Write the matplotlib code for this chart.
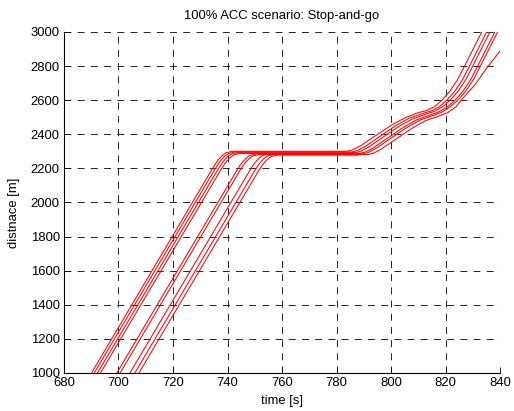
import matplotlib
matplotlib.use("Agg")
import matplotlib.pyplot as plt

plt.rcParams["font.family"] = ["Liberation Sans", "DejaVu Sans"]
plt.rcParams["lines.scale_dashes"] = False

# vehicle trajectories: time [s] and position [m]
veh1_t = [688.1, 690.1, 734.9, 736.4, 737.9, 739.4, 741.6, 783.8, 785.8, 788.8, 793.8, 799.8,
          804.8, 809.8, 813.0, 816.0, 818.7, 821.5, 824.5, 827.2, 830.0, 833.3, 834.5]
veh1_d = [946, 1000, 2210, 2246, 2273, 2291, 2300, 2300, 2308, 2332, 2386, 2450,
          2494, 2526, 2539, 2562, 2600, 2650, 2722, 2806, 2895, 3000, 3040]

veh2_t = [689.1, 691.1, 735.8, 737.3, 738.8, 740.3, 742.5, 785.6, 787.6, 790.6, 795.6, 801.6,
          806.6, 811.6, 814.8, 817.8, 820.5, 823.3, 826.3, 829.0, 831.8, 835.1, 836.3]
veh2_d = [946, 1000, 2206, 2242, 2269, 2287, 2296, 2296, 2304, 2329, 2384, 2449,
          2494, 2522, 2537, 2562, 2600, 2650, 2722, 2806, 2895, 3000, 3040]

veh3_t = [690.3, 692.3, 736.8, 738.3, 739.8, 741.3, 743.5, 786.8, 788.8, 791.8, 796.8, 802.8,
          807.8, 812.8, 816.0, 819.0, 821.7, 824.5, 827.5, 830.2, 833.0, 836.3, 837.5]
veh3_d = [946, 1000, 2202, 2238, 2265, 2283, 2292, 2292, 2300, 2325, 2380, 2445,
          2490, 2518, 2535, 2562, 2600, 2650, 2722, 2806, 2895, 3000, 3040]

veh4_t = [691.4, 693.4, 737.8, 739.3, 740.8, 742.3, 744.5, 788.6, 790.6, 793.6, 798.6, 804.6,
          809.6, 814.6, 817.8, 820.8, 823.5, 826.3, 829.3, 832.0, 834.8, 838.1, 839.3]
veh4_d = [946, 1000, 2198, 2234, 2261, 2279, 2288, 2288, 2296, 2321, 2376, 2441,
          2486, 2514, 2533, 2562, 2600, 2650, 2722, 2806, 2895, 3000, 3040]

veh5_t = [697.4, 699.4, 743.7, 745.2, 746.7, 748.2, 750.4, 789.6, 791.6, 794.6, 799.6, 805.6,
          810.6, 815.6, 818.8, 821.8, 824.5, 827.3, 830.3, 833.0, 835.8, 839.1, 840.3]
veh5_d = [946, 1000, 2195, 2231, 2258, 2276, 2285, 2285, 2293, 2318, 2373, 2438,
          2483, 2511, 2531, 2562, 2600, 2650, 2722, 2806, 2895, 3000, 3040]

veh6_t = [698.6, 700.6, 744.7, 746.2, 747.7, 749.2, 751.4, 791.6, 793.6, 796.6, 801.6, 807.6,
          812.6, 817.6, 820.8, 823.8, 826.4, 830.8, 835.2, 840.0, 841.0]
veh6_d = [946, 1000, 2191, 2227, 2254, 2272, 2281, 2281, 2289, 2314, 2369, 2434,
          2479, 2507, 2527, 2560, 2612, 2690, 2790, 2888, 2908]

veh7_t = [702.2, 704.2, 748.5, 750.0, 751.5, 753.0, 755.2, 784.0]
veh7_d = [946, 1000, 2196, 2232, 2259, 2277, 2286, 2286]

veh8_t = [704.0, 706.0, 750.2, 751.7, 753.2, 754.7, 756.9, 786.0]
veh8_d = [946, 1000, 2192, 2228, 2255, 2273, 2282, 2282]

veh9_t = [705.5, 707.5, 751.5, 753.0, 754.5, 756.0, 758.2, 788.0]
veh9_d = [946, 1000, 2188, 2224, 2251, 2269, 2278, 2278]

x_ticks = [680, 700, 720, 740, 760, 780, 800, 820, 840]
y_ticks = [1000, 1200, 1400, 1600, 1800, 2000, 2200, 2400, 2600, 2800, 3000]

fig = plt.figure(figsize=(5.14, 4.11), dpi=100)
ax = fig.add_axes([0.1245, 0.0925, 0.8483, 0.8297])

trajectories = [(veh1_t, veh1_d), (veh2_t, veh2_d), (veh3_t, veh3_d), (veh4_t, veh4_d),
                (veh5_t, veh5_d), (veh6_t, veh6_d), (veh7_t, veh7_d), (veh8_t, veh8_d),
                (veh9_t, veh9_d)]
for t, d in trajectories:
    ax.plot(t, d, color="#ff0000", lw=0.75)

ax.set_xlim(680, 840)
ax.set_ylim(1000, 3000)
ax.set_xticks(x_ticks)
ax.set_yticks(y_ticks)

ax.grid(True, color="k", lw=0.6, linestyle=(0, (5, 4.5)))
ax.set_axisbelow(True)
for side in ["top", "right"]:
    ax.spines[side].set_visible(False)
for side in ["left", "bottom"]:
    ax.spines[side].set_linewidth(0.8)
ax.tick_params(direction="in", length=4, width=0.6, labelsize=9.4, pad=3)

ax.set_title("100% ACC scenario: Stop-and-go", fontsize=9.4, pad=9)
ax.set_xlabel("time [s]", fontsize=9.4, labelpad=4)
ax.set_ylabel("distnace [m]", fontsize=9.4)
ax.yaxis.set_label_coords(-0.101, 0.47)

fig.savefig("out.png", dpi=100)
